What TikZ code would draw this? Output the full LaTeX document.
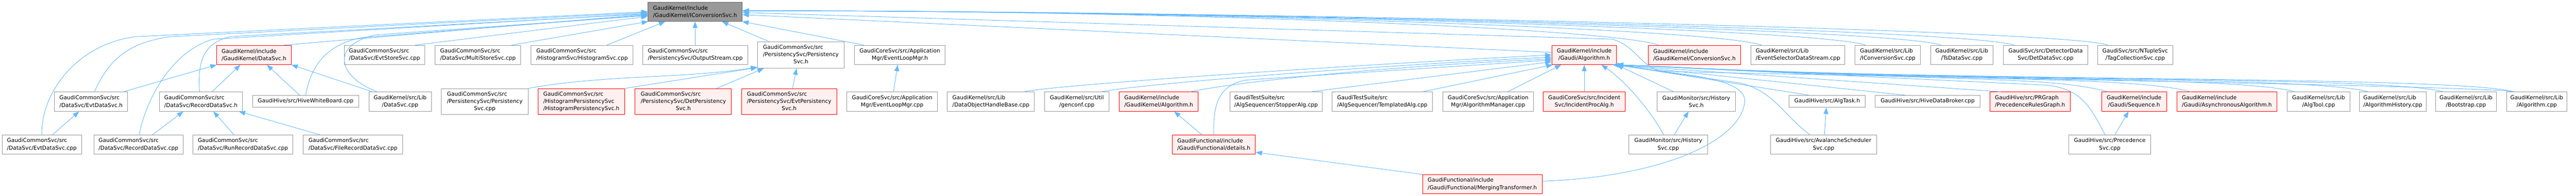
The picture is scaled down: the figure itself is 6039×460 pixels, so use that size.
\documentclass[tikz,border=0pt]{standalone}
\usepackage{fontspec}
\setmainfont{DejaVu Sans}
\usepackage{tikz}
\usetikzlibrary{arrows.meta}
\definecolor{edgeblue}{HTML}{63B8FF}
\definecolor{boxgrey}{HTML}{999999}
\definecolor{mainfill}{HTML}{999999}
\definecolor{mainborder}{HTML}{666666}
\definecolor{truncfill}{HTML}{FFF0F0}
\tikzstyle{file box}=[draw=boxgrey,fill=white,line width=1.2pt,inner sep=0pt,minimum height=45pt,align=center,font=\fontsize{12.8pt}{17.3pt}\selectfont]
\tikzstyle{left file box}=[file box,align=left]
\tikzstyle{red file box}=[file box,draw=red,fill=truncfill]
\tikzstyle{red left file box}=[red file box,align=left]
\tikzstyle{main file box}=[left file box,draw=mainborder,fill=mainfill]
\tikzstyle{incl arrow}=[draw=edgeblue,line width=1.1pt,-{Triangle[length=15pt,width=11pt]}]
\newcommand{\pathlabel}[3]{\begin{tabular}{@{}l@{}}#1\\#2\\\multicolumn{1}{@{}c@{}}{#3}\end{tabular}}

\begin{document}
\begin{tikzpicture}[x=1pt,y=-1pt]
    \useasboundingbox (0,0) rectangle (6039,460);
    % the header itself
    \node[main file box, minimum width=221pt] (icsh) at (1629.5,27.5) {GaudiKernel/include\\/GaudiKernel/IConversionSvc.h};
    % first row
    \node[red left file box, minimum width=175pt] (datasvch) at (595.5,129) {GaudiKernel/include\\/GaudiKernel/DataSvc.h};
    \node[left file box, minimum width=189pt] (evtstore) at (901.5,129) {GaudiCommonSvc/src\\/DataSvc/EvtStoreSvc.cpp};
    \node[left file box, minimum width=201pt] (multistore) at (1120.5,129) {GaudiCommonSvc/src\\/DataSvc/MultiStoreSvc.cpp};
    \node[left file box, minimum width=239pt] (histsvc) at (1364.5,129) {GaudiCommonSvc/src\\/HistogramSvc/HistogramSvc.cpp};
    \node[left file box, minimum width=246pt] (outstream) at (1630,129) {GaudiCommonSvc/src\\/PersistencySvc/OutputStream.cpp};
    \node[file box, minimum width=203pt, minimum height=62pt] (persh) at (1877.5,129) {\pathlabel{GaudiCommonSvc/src}{/PersistencySvc/Persistency}{Svc.h}};
    \node[file box, minimum width=213pt] (evloopmgrh) at (2109.5,129) {GaudiCoreSvc/src/Application\\Mgr/EventLoopMgr.h};
    \node[red file box, minimum width=152pt] (galgh) at (3714,129) {GaudiKernel/include\\/Gaudi/Algorithm.h};
    \node[red left file box, minimum width=217pt] (convsvch) at (3972.5,129) {GaudiKernel/include\\/GaudiKernel/ConversionSvc.h};
    \node[left file box, minimum width=220pt] (evtselds) at (4215,129) {GaudiKernel/src/Lib\\/EventSelectorDataStream.cpp};
    \node[left file box, minimum width=153pt] (iconvcpp) at (4425.5,129) {GaudiKernel/src/Lib\\/IConversionSvc.cpp};
    \node[file box, minimum width=146pt] (tsdatasvc) at (4599,129) {GaudiKernel/src/Lib\\/TsDataSvc.cpp};
    \node[file box, minimum width=197pt] (detdatasvc) at (4795.5,129) {GaudiSvc/src/DetectorData\\Svc/DetDataSvc.cpp};
    \node[file box, minimum width=177pt] (tagcollsvc) at (5005.5,129) {GaudiSvc/src/NTupleSvc\\/TagCollectionSvc.cpp};
    % second row
    \node[left file box, minimum width=171pt] (evtdatasvch) at (213.5,238.5) {GaudiCommonSvc/src\\/DataSvc/EvtDataSvc.h};
    \node[left file box, minimum width=194pt] (recdatasvch) at (471,238.5) {GaudiCommonSvc/src\\/DataSvc/RecordDataSvc.h};
    \node[file box, minimum width=249pt, minimum height=28pt] (hivewb) at (716.5,238) {GaudiHive/src/HiveWhiteBoard.cpp};
    \node[file box, minimum width=146pt] (datasvccpp) at (938,238.5) {GaudiKernel/src/Lib\\/DataSvc.cpp};
    \node[file box, minimum width=203pt, minimum height=61pt] (perscpp) at (1136.5,238.5) {\pathlabel{GaudiCommonSvc/src}{/PersistencySvc/Persistency}{Svc.cpp}};
    \node[red left file box, minimum width=204pt, minimum height=61pt] (histpersh) at (1363,238.5) {GaudiCommonSvc/src\\/HistogramPersistencySvc\\/HistogramPersistencySvc.h};
    \node[red file box, minimum width=226pt, minimum height=61pt] (detpersh) at (1602,238.5) {\pathlabel{GaudiCommonSvc/src}{/PersistencySvc/DetPersistency}{Svc.h}};
    \node[red file box, minimum width=224pt, minimum height=61pt] (evtpersh) at (1850,238.5) {\pathlabel{GaudiCommonSvc/src}{/PersistencySvc/EvtPersistency}{Svc.h}};
    \node[file box, minimum width=213pt] (evloopmgrcpp) at (2091.5,238.5) {GaudiCoreSvc/src/Application\\Mgr/EventLoopMgr.cpp};
    \node[left file box, minimum width=204pt] (dohandle) at (2323,238.5) {GaudiKernel/src/Lib\\/DataObjectHandleBase.cpp};
    \node[file box, minimum width=151pt] (genconf) at (2524.5,238.5) {GaudiKernel/src/Util\\/genconf.cpp};
    \node[red left file box, minimum width=185pt] (gkalgh) at (2716.5,238.5) {GaudiKernel/include\\/GaudiKernel/Algorithm.h};
    \node[left file box, minimum width=217pt] (stopper) at (2991.5,238.5) {GaudiTestSuite/src\\/AlgSequencer/StopperAlg.cpp};
    \node[left file box, minimum width=235pt] (templalg) at (3240.5,238.5) {GaudiTestSuite/src\\/AlgSequencer/TemplatedAlg.cpp};
    \node[file box, minimum width=213pt] (algmgr) at (3488.5,238.5) {GaudiCoreSvc/src/Application\\Mgr/AlgorithmManager.cpp};
    \node[red file box, minimum width=192pt] (incproc) at (3714,238.5) {GaudiCoreSvc/src/Incident\\Svc/IncidentProcAlg.h};
    \node[file box, minimum width=183pt] (historyh) at (3976.5,238.5) {GaudiMonitor/src/History\\Svc.h};
    \node[file box, minimum width=179pt, minimum height=28pt] (algtaskh) at (4283.5,238) {GaudiHive/src/AlgTask.h};
    \node[file box, minimum width=246pt, minimum height=28pt] (hivedb) at (4519,238) {GaudiHive/src/HiveDataBroker.cpp};
    \node[red left file box, minimum width=188pt] (prgraph) at (4759,238.5) {GaudiHive/src/PRGraph\\/PrecedenceRulesGraph.h};
    \node[red file box, minimum width=152pt] (sequenceh) at (5003,238.5) {GaudiKernel/include\\/Gaudi/Sequence.h};
    \node[red left file box, minimum width=235pt] (asyncalg) at (5220.5,238.5) {GaudiKernel/include\\/Gaudi/AsynchronousAlgorithm.h};
    \node[file box, minimum width=147pt] (algtool) at (5435.5,238.5) {GaudiKernel/src/Lib\\/AlgTool.cpp};
    \node[left file box, minimum width=157pt] (alghist) at (5609.5,238.5) {GaudiKernel/src/Lib\\/AlgorithmHistory.cpp};
    \node[file box, minimum width=142pt] (bootstrap) at (5781,238.5) {GaudiKernel/src/Lib\\/Bootstrap.cpp};
    \node[file box, minimum width=142pt] (algcpp) at (5947,238.5) {GaudiKernel/src/Lib\\/Algorithm.cpp};
    % third row
    \node[left file box, minimum width=186pt] (evtdatasvccpp) at (98,339.5) {GaudiCommonSvc/src\\/DataSvc/EvtDataSvc.cpp};
    \node[left file box, minimum width=209pt] (recdatasvccpp) at (324.5,339.5) {GaudiCommonSvc/src\\/DataSvc/RecordDataSvc.cpp};
    \node[left file box, minimum width=235pt] (runrecsvc) at (569.5,339.5) {GaudiCommonSvc/src\\/DataSvc/RunRecordDataSvc.cpp};
    \node[left file box, minimum width=233pt] (filerecsvc) at (827.5,339.5) {GaudiCommonSvc/src\\/DataSvc/FileRecordDataSvc.cpp};
    \node[red left file box, minimum width=195pt] (detailsh) at (2845.5,339.5) {GaudiFunctional/include\\/Gaudi/Functional/details.h};
    \node[file box, minimum width=184pt] (historycpp) at (3911,339.5) {GaudiMonitor/src/History\\Svc.cpp};
    \node[file box, minimum width=248pt] (avalanche) at (4275,339.5) {GaudiHive/src/AvalancheScheduler\\Svc.cpp};
    \node[file box, minimum width=192pt] (precsvc) at (4946,339.5) {GaudiHive/src/Precedence\\Svc.cpp};
    % fourth row
    \node[red left file box, minimum width=280pt] (merging) at (3475,432.5) {GaudiFunctional/include\\/Gaudi/Functional/MergingTransformer.h};

    % short includes, from the top of one box to the bottom of the next
    \foreach \source/\sx/\dest/\dx in {evtdatasvccpp/25/evtdatasvch/-28, recdatasvccpp/33/recdatasvch/-41,
        runrecsvc/-21/recdatasvch/29, filerecsvc/-78/recdatasvch/89, evtdatasvch/76/datasvch/-87.5,
        recdatasvch/26/datasvch/-32, hivewb/-14/datasvch/30, datasvccpp/-65/datasvch/87.5,
        outstream/0/icsh/0, histsvc/58/icsh/-70, multistore/79/icsh/-110, persh/-75/icsh/63,
        evloopmgrh/-84/icsh/110.5, detpersh/78/persh/-87, evtpersh/8/persh/-10,
        evloopmgrcpp/3/evloopmgrh/-5, detailsh/-28/gkalgh/36, historycpp/14/historyh/-18,
        avalanche/2/algtaskh/-2, precsvc/12/sequenceh/-13, incproc/0/galgh/0, algmgr/46/galgh/-54,
        templalg/94/galgh/-74, historyh/-53/galgh/76, algtaskh/-43/galgh/76, hivedb/-52/galgh/70,
        prgraph/-69/galgh/66}
        \path[incl arrow] ([xshift=\sx pt]\source.north) -- ([xshift=\dx pt]\dest.south);

    % direct includes of IConversionSvc.h from the left
    \path[incl arrow] (evtdatasvccpp.north) .. controls (96,210) and (190,100) .. (320,86) -- (icsh.west);
    \path[incl arrow] ([xshift=8pt]evtdatasvch.north) .. controls (255,140) and (300,100) .. (400,86) -- ([yshift=-2pt]icsh.west);
    \path[incl arrow] ([xshift=2pt]recdatasvccpp.north) .. controls (340,240) and (400,120) .. (500,92) -- ([yshift=-4pt]icsh.west);
    \path[incl arrow] ([xshift=-3pt]recdatasvch.north) .. controls (462,140) and (480,100) .. (540,86) -- ([yshift=-5pt]icsh.west);
    \path[incl arrow] ([xshift=-18pt]datasvch.north east) -- ([yshift=-6pt]icsh.west);
    \path[incl arrow] (hivewb.north) .. controls (728,160) and (760,105) .. (850,88) -- ([yshift=-8pt]icsh.west);
    \path[incl arrow] ([xshift=20pt]datasvccpp.north west) .. controls (790,180) and (775,105) .. (880,82) -- ([yshift=-9pt]icsh.west);
    \path[incl arrow] ([xshift=-23pt]evtstore.north east) -- ([yshift=-11pt]icsh.west);

    % persistency services
    \path[incl arrow] (perscpp.north east) .. controls (1420,175) and (1600,185) .. ([yshift=3pt]persh.south west);
    \path[incl arrow] (histpersh.north east) -- ([yshift=2pt]persh.south west);

    % direct includes of IConversionSvc.h from the right
    \path[incl arrow] ([yshift=6pt]galgh.west) -- ([yshift=-7pt]icsh.east);
    \foreach \source/\px in {convsvch/3889,evtselds/4130,iconvcpp/4374,tsdatasvc/4551,detdatasvc/4722,tagcollsvc/4942}
        \path[incl arrow] ([xshift=25pt]\source.north west) .. controls (\px-113,66) and (2740,25.5) .. (1840,25.5) -- ([yshift=2pt]icsh.east);
    \path[incl arrow] ([xshift=-50pt]algcpp.north) .. controls (5800,200) and (4100,175) .. (3900,167)
        .. controls (3850,165) and (3840,110) .. (3780,92) -- ([yshift=-2pt]icsh.east);

    % Gaudi/Algorithm.h from the left
    \path[incl arrow] ([xshift=77pt]dohandle.north) .. controls (2478,199) and (3139,155) .. (3558,133) -- (galgh.west);
    \path[incl arrow] ([xshift=58pt]genconf.north) .. controls (2661,199) and (3139,160) .. (3558,138) -- ([yshift=-5pt]galgh.west);
    \path[incl arrow] ([xshift=73pt]gkalgh.north) .. controls (2868,199) and (3139,164) .. (3558,142) -- ([yshift=-9pt]galgh.west);
    \path[incl arrow] (detailsh.north) .. controls (2843,240) and (2860,200) .. (2920,188) -- ([yshift=-12pt]galgh.west);
    \path[incl arrow] ([xshift=81pt]stopper.north) -- ([yshift=-16pt]galgh.west);

    % Gaudi/Algorithm.h from the right
    \path[incl arrow] ([xshift=-11pt]historycpp.north) .. controls (3870,260) and (3810,190) .. ([xshift=40pt]galgh.south);
    \path[incl arrow] ([xshift=-32pt]avalanche.north) .. controls (4180,270) and (4160,215) .. (4080,195) -- ([xshift=72pt]galgh.south);
    \path[incl arrow] ([xshift=-11pt]precsvc.north) .. controls (4900,250) and (4880,210) .. (4800,200) -- ([xshift=74pt]galgh.south);
    \foreach \source/\sx/\px in {sequenceh/-61/4942,asyncalg/-85/5135,algtool/-55/5380,alghist/-57/5552,bootstrap/-53/5728,algcpp/-54/5893}
        \path[incl arrow] ([xshift=\sx pt]\source.north) .. controls (\px-145,177) and (4589,193) .. (3890,156) -- (galgh.south east);

    % merging transformer
    \path[incl arrow] (merging.north west) -- ([yshift=5pt]detailsh.south east);
    \path[incl arrow] ([yshift=7pt]merging.east) .. controls (3900,415) and (4080,330) .. (4090,240)
        .. controls (4095,195) and (4000,180) .. (3900,168) -- ([xshift=-6pt]galgh.south east);
\end{tikzpicture}
\end{document}
